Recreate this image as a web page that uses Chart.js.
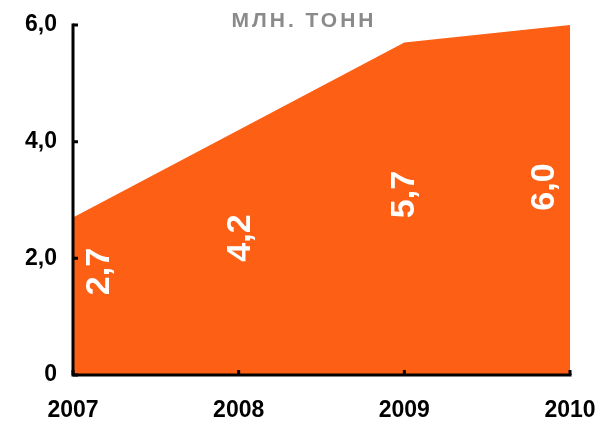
<!DOCTYPE html>
<html lang="ru">
<head>
    <meta charset="UTF-8">
    <title>млн. тонн</title>
    <script src="https://cdn.jsdelivr.net/npm/chart.js"></script>
    <style>
        html, body {
            margin: 0;
            padding: 0;
            background: #fff;
        }
        #wrap {
            width: 595px;
            height: 422px;
        }
    </style>
</head>
<body>
    <div id="wrap"><canvas id="volumeChart" width="595" height="422"></canvas></div>

    <script>
        // данные
        const years = ['2007', '2008', '2009', '2010'];
        const volumes = [2.7, 4.2, 5.7, 6.0];
        const yTicks = [0, 2, 4, 6];
        const unitTitle = 'МЛН. ТОНН';

        const fillColor = '#FD5F15';
        const fontFamily = '"Liberation Sans", Arial, sans-serif';

        function fmt(v) {
            return v === 0 ? '0' : v.toFixed(1).replace('.', ',');
        }

        // оси и засечки рисуем сами поверх заливки
        const axesPlugin = {
            id: 'axesPlugin',
            afterDatasetsDraw(chart) {
                const ctx = chart.ctx;
                const a = chart.chartArea;
                const xs = chart.scales.x;
                const ys = chart.scales.y;
                ctx.save();
                ctx.strokeStyle = '#000';
                ctx.lineWidth = 3;
                ctx.lineCap = 'square';
                ctx.beginPath();
                ctx.moveTo(a.left, a.top);
                ctx.lineTo(a.left, a.bottom);
                ctx.lineTo(a.right, a.bottom);
                ctx.stroke();
                ctx.lineCap = 'butt';
                ctx.beginPath();
                yTicks.forEach(v => {
                    const y = ys.getPixelForValue(v);
                    ctx.moveTo(a.left, y);
                    ctx.lineTo(a.left + 5, y);
                });
                years.forEach((yr, i) => {
                    const x = xs.getPixelForValue(i);
                    ctx.moveTo(x, a.bottom);
                    ctx.lineTo(x, a.bottom - 5);
                });
                ctx.stroke();
                ctx.restore();
            }
        };

        // подписи значений (повёрнутые) и заголовок
        const labelsPlugin = {
            id: 'labelsPlugin',
            afterDraw(chart) {
                const ctx = chart.ctx;
                const meta = chart.getDatasetMeta(0);
                const dx = [27, 2, 0, -25];
                const dy = [54, 108, 152, 162];
                ctx.save();
                ctx.fillStyle = '#fff';
                ctx.font = 'bold 34px ' + fontFamily;
                ctx.textAlign = 'center';
                ctx.textBaseline = 'middle';
                meta.data.forEach((pt, i) => {
                    ctx.save();
                    ctx.translate(pt.x + dx[i], pt.y + dy[i]);
                    ctx.rotate(-Math.PI / 2);
                    ctx.fillText(fmt(volumes[i]), 0, 0);
                    ctx.restore();
                });

                ctx.fillStyle = '#8a8a8a';
                ctx.font = 'bold 21px ' + fontFamily;
                ctx.letterSpacing = '3px';
                ctx.fillText(unitTitle, 304, 21);
                ctx.restore();
            }
        };

        const ctx = document.getElementById('volumeChart').getContext('2d');
        new Chart(ctx, {
            type: 'line',
            data: {
                labels: years,
                datasets: [{
                    data: volumes,
                    backgroundColor: fillColor,
                    borderColor: fillColor,
                    borderWidth: 0,
                    pointRadius: 0,
                    tension: 0,
                    fill: 'origin'
                }]
            },
            options: {
                responsive: false,
                animation: false,
                layout: {
                    padding: { top: 25, right: 25, left: 0, bottom: 0 }
                },
                plugins: {
                    legend: { display: false },
                    tooltip: { enabled: false }
                },
                scales: {
                    x: {
                        offset: false,
                        grid: { display: false, drawTicks: false },
                        border: { display: false },
                        ticks: {
                            color: '#000',
                            padding: 22,
                            maxRotation: 0,
                            font: { family: fontFamily, size: 23, weight: 'bold' }
                        },
                        afterFit(scale) {
                            scale.height = 47;
                            scale.paddingLeft = 0;
                            scale.paddingRight = 0;
                        }
                    },
                    y: {
                        min: 0,
                        max: 6,
                        grid: { display: false, drawTicks: false },
                        border: { display: false },
                        afterBuildTicks(scale) {
                            scale.ticks = yTicks.map(v => ({ value: v }));
                        },
                        ticks: {
                            color: '#000',
                            padding: 16,
                            font: { family: fontFamily, size: 23, weight: 'bold' },
                            callback: v => fmt(v)
                        },
                        afterFit(scale) {
                            scale.width = 73;
                            scale.paddingTop = 0;
                            scale.paddingBottom = 0;
                        }
                    }
                }
            },
            plugins: [axesPlugin, labelsPlugin]
        });
    </script>
</body>
</html>
